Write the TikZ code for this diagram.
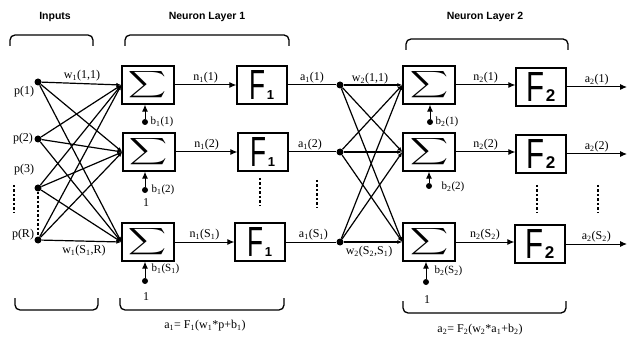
\documentclass[tikz,border=0pt]{standalone}
\usepackage{fontspec}
\usepackage{graphicx}
\setmainfont{Liberation Serif}
\setsansfont{Liberation Sans}
\usetikzlibrary{arrows.meta}
\newcommand\lsub[1]{\textsubscript{#1}}
\newcommand\sigsym{\resizebox*{38pt}{30pt}{$\displaystyle\sum$}}
\newcommand\fsym[4]{\resizebox*{#1}{29pt}{\sffamily F}\hspace{1pt}{\sffamily\bfseries\fontsize{#2}{#2}\selectfont #3}\hspace{#4}}
\begin{document}
\begin{tikzpicture}[x=1pt,y=-1pt,
  sumbox/.style={draw, line width=1.3pt, minimum width=52pt, minimum height=38pt, inner sep=0pt},
  actbox/.style={draw, line width=1.2pt, minimum width=50pt, minimum height=38pt, inner sep=0pt},
  pdot/.style={circle, fill, inner sep=0pt, minimum size=7pt},
  bdot/.style={circle, fill, inner sep=0pt, minimum size=6pt},
  lbl/.style={font=\fontsize{12}{14}\selectfont, inner sep=1pt},
  blbl/.style={font=\fontsize{11}{12}\selectfont, inner sep=0.5pt, anchor=west},
  head/.style={font=\sffamily\bfseries\fontsize{10.5}{12}\selectfont},
  wire/.style={line width=1.2pt, -{Latex[length=5pt,width=4pt]}},
  plain/.style={line width=1pt},
  arr/.style={line width=1pt, -{Latex[length=7pt,width=6pt]}},
  brace/.style={line width=1.3pt, rounded corners=5pt},
  vdots/.style={line width=2.5pt, dash pattern=on 2.5pt off 2pt}]
\useasboundingbox (0,0) rectangle (629,339);

% headings
\node[head] (hin) at (55,17) {Inputs};
\node[head] (hl1) at (207,17) {Neuron Layer 1};
\node[head] (hl2) at (485,17) {Neuron Layer 2};

% top braces
\draw[brace] (10,46) -- (10,35) -- (93,35) -- (93,46);
\draw[brace] (125,46) -- (125,35) -- (289,35) -- (289,46);
\draw[brace] (406,50) -- (406,39) -- (568,39) -- (568,50);
% bottom braces
\draw[brace] (15,298) -- (15,310) -- (98,310) -- (98,298);
\draw[brace] (120,298) -- (120,310) -- (284,310) -- (284,298);
\draw[brace] (403,301) -- (403,313) -- (566,313) -- (566,301);

% inputs
\node[pdot] (i1) at (38,82) {};
\node[pdot] (i2) at (38,139) {};
\node[pdot] (i3) at (38,188) {};
\node[pdot] (i4) at (38,240) {};
\node[lbl] (lp1) at (24,92) {p(1)};
\node[lbl] (lp2) at (23,139) {p(2)};
\node[lbl] (lp3) at (24,170) {p(3)};
\node[lbl] (lp4) at (23,235) {p(R)};
\draw[vdots] (14,185) -- (14,213);
\draw[vdots] (i3) -- (i4);

% layer 1
\node[sumbox] (s11) at (148,85) {\sigsym};
\node[sumbox] (s12) at (149,152) {\sigsym};
\node[sumbox] (s13) at (148,242) {\sigsym};
\node[actbox] (f11) at (262,85) {\fsym{16pt}{13}{1}{2pt}};
\node[actbox] (f12) at (263,152) {\fsym{16pt}{13}{1}{2pt}};
\node[actbox] (f13) at (260,242) {\fsym{16pt}{13}{1}{2pt}};

\foreach \i in {i1,i2,i3,i4}
  \foreach \s in {s11,s12,s13}
    \draw[wire] (\i) -- (\s.west);
\node[lbl] (lw11) at (82,76) {w\lsub1(1,1)};
\node[lbl] (lw1s) at (84,251) {w\lsub1(S\lsub1,R)};

\draw[arr] (s11.east) -- node[lbl, above] (ln11) {n\lsub1(1)} (f11.west);
\draw[arr] (s12.east) -- node[lbl, above] (ln12) {n\lsub1(2)} (f12.west);
\draw[arr] (s13.east) -- node[lbl, above] (ln13) {n\lsub1(S\lsub1)} (f13.west);

% bias layer 1
\node[bdot] (b11) at (145,122) {};
\node[bdot] (b12) at (145,190) {};
\node[bdot] (b13) at (145,281) {};
\draw[arr] (b11) -- (s11.south -| b11);
\draw[arr] (b12) -- (s12.south -| b12);
\draw[arr] (b13) -- (s13.south -| b13);
\node[blbl] (lb11) at (150,122) {b\lsub1(1)};
\node[blbl] (lb12) at (151,190) {b\lsub1(2)};
\node[blbl] (lb13) at (151,269) {b\lsub1(S\lsub1)};
\node[lbl] (one12) at (146,203) {1};
\node[lbl] (one13) at (146,297) {1};

% layer 1 outputs
\node[pdot] (d1) at (340,85) {};
\node[pdot] (d2) at (340,152) {};
\node[pdot] (d3) at (340,242) {};
\draw[plain] (f11.east) -- node[lbl, above, pos=0.5] (la11) {a\lsub1(1)} (d1);
\draw[plain] (f12.east) -- node[lbl, above, pos=0.45] (la12) {a\lsub1(2)} (d2);
\draw[plain] (f13.east) -- node[lbl, above, pos=0.55] (la13) {a\lsub1(S\lsub1)} (d3);
\draw[vdots] (260,178) -- (260,206);
\draw[vdots] (317,180) -- (317,208);

% layer 2
\node[sumbox] (s21) at (429,85) {\sigsym};
\node[sumbox] (s22) at (429,152) {\sigsym};
\node[sumbox] (s23) at (429,242) {\sigsym};
\node[actbox] (f21) at (541,87) {\fsym{18pt}{17}{2}{0pt}};
\node[actbox] (f22) at (541,154) {\fsym{18pt}{17}{2}{0pt}};
\node[actbox] (f23) at (540,244) {\fsym{18pt}{17}{2}{0pt}};

\foreach \d in {d1,d2,d3}
  \foreach \s in {s21,s22,s23}
    \draw[wire] (\d) -- (\s.west);
\node[lbl] (lw21) at (370,79) {w\lsub2(1,1)};
\node[lbl] (lw2s) at (369,252) {w\lsub2(S\lsub2,S\lsub1)};

\draw[arr] (s21.east) -- node[lbl, above] (ln21) {n\lsub2(1)} (f21.west |- s21.east);
\draw[arr] (s22.east) -- node[lbl, above] (ln22) {n\lsub2(2)} (f22.west |- s22.east);
\draw[arr] (s23.east) -- node[lbl, above] (ln23) {n\lsub2(S\lsub2)} (f23.west |- s23.east);

% bias layer 2
\node[bdot] (b21) at (430,122) {};
\node[bdot] (b22) at (429,186) {};
\node[bdot] (b23) at (426,282) {};
\draw[arr] (b21) -- (s21.south -| b21);
\draw[arr] (b22) -- (s22.south -| b22);
\draw[arr] (b23) -- (s23.south -| b23);
\node[blbl] (lb21) at (435,122) {b\lsub2(1)};
\node[blbl] (lb22) at (441,187) {b\lsub2(2)};
\node[blbl] (lb23) at (434,271) {b\lsub2(S\lsub2)};
\node[lbl] (one23) at (427,300) {1};

% outputs
\coordinate (o1) at (627,87);
\coordinate (o2) at (627,154);
\coordinate (o3) at (627,244);
\draw[arr] (f21.east) -- node[lbl, above] (la21) {a\lsub2(1)} (o1);
\draw[arr] (f22.east) -- node[lbl, above] (la22) {a\lsub2(2)} (o2);
\draw[arr] (f23.east) -- node[lbl, above] (la23) {a\lsub2(S\lsub2)} (o3);
\draw[vdots] (537,185) -- (537,213);
\draw[vdots] (598,185) -- (598,213);

% equations
\node[lbl] (eq1) at (205,326) {a\lsub1= F\lsub1(w\lsub1*p+b\lsub1)};
\node[lbl] (eq2) at (480,330) {a\lsub2= F\lsub2(w\lsub2*a\lsub1+b\lsub2)};
\end{tikzpicture}
\end{document}
